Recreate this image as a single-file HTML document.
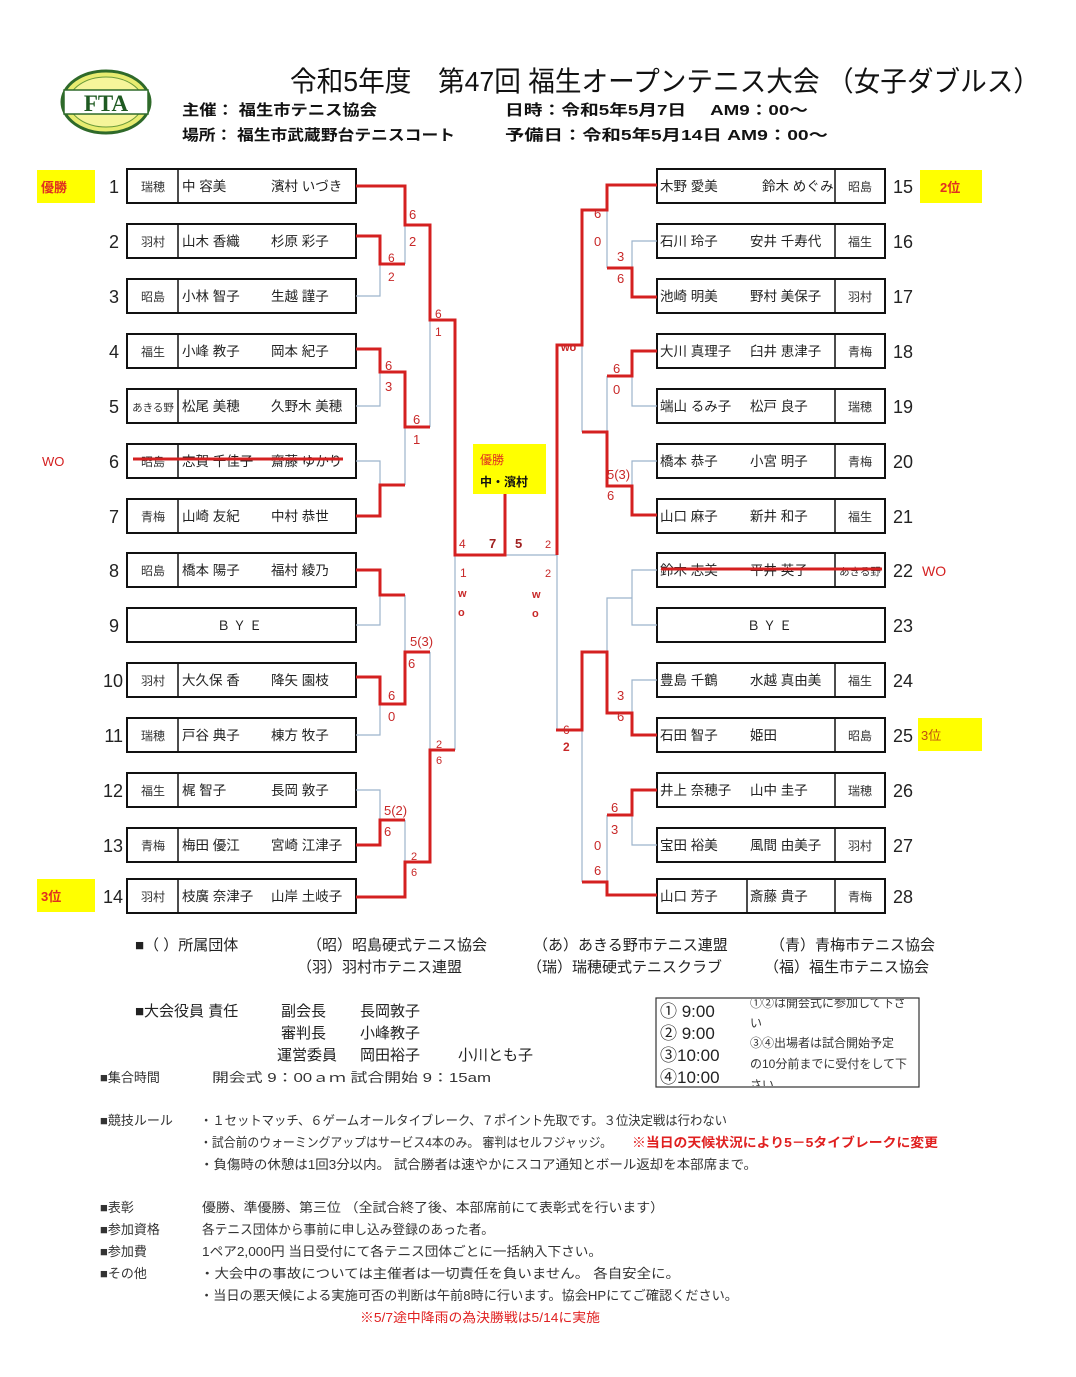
<!DOCTYPE html>
<html><head><meta charset="utf-8"><style>
html,body{margin:0;padding:0;background:#fff;width:1076px;height:1377px;overflow:hidden}
svg{display:block;font-family:"Liberation Sans","Noto Sans CJK JP",sans-serif}
</style></head><body>
<svg width="1076" height="1377" viewBox="0 0 1076 1377" xmlns="http://www.w3.org/2000/svg">
<rect width="1076" height="1377" fill="#fff"/>
<!-- logo -->
<ellipse cx="106" cy="102" rx="44" ry="31" fill="#e8ec70" stroke="#2f6a2a" stroke-width="3"/>
<ellipse cx="106" cy="102" rx="37" ry="25" fill="#f6f59a" stroke="#6a9a3a" stroke-width="1"/>
<rect x="64" y="90" width="84" height="24" fill="#fff" stroke="#2f6a2a" stroke-width="1.5"/>
<text x="106" y="111" font-family="Liberation Serif,serif" font-weight="bold" font-size="23" fill="#1f5a22" text-anchor="middle">FTA</text>
<!-- header -->
<text x="290" y="91" font-size="28" fill="#111" textLength="750" lengthAdjust="spacingAndGlyphs">令和5年度　第47回 福生オープンテニス大会 （女子ダブルス）</text>
<g font-size="15" font-weight="bold" fill="#111">
<text x="182" y="115" textLength="195" lengthAdjust="spacingAndGlyphs">主催：  福生市テニス協会</text>
<text x="182" y="140" textLength="273" lengthAdjust="spacingAndGlyphs">場所：  福生市武蔵野台テニスコート</text>
<text x="505" y="115" textLength="303" lengthAdjust="spacingAndGlyphs">日時：令和5年5月7日　 AM9：00～</text>
<text x="505" y="140" textLength="323" lengthAdjust="spacingAndGlyphs">予備日：令和5年5月14日  AM9：00～</text>
</g>
<!-- yellow labels -->
<rect x="37" y="170" width="58" height="33" fill="#ffff00"/><text x="41" y="192" font-size="13" font-weight="bold" fill="#e03020">優勝</text>
<rect x="37" y="879" width="58" height="33" fill="#ffff00"/><text x="41" y="901" font-size="13" font-weight="bold" fill="#e03020">3位</text>
<rect x="920" y="170" width="62" height="33" fill="#ffff00"/><text x="940" y="192" font-size="13" font-weight="bold" fill="#e03020">2位</text>
<rect x="918" y="718" width="64" height="33" fill="#ffff00"/><text x="921" y="740" font-size="13" fill="#c05010">3位</text>
<rect x="473" y="444" width="73" height="50" fill="#ffff00"/>
<text x="480" y="464" font-size="12" fill="#e03020">優勝</text>
<text x="480" y="486" font-size="12" font-weight="bold" fill="#111">中・濱村</text>
<text x="42" y="466" font-size="13" fill="#d42020">WO</text>
<text x="922" y="576" font-size="14" fill="#d42020">WO</text>

<!-- left boxes -->
<g fill="none" stroke="#111" stroke-width="2">
<rect x="127" y="169" width="229" height="34"/><rect x="127" y="224" width="229" height="34"/><rect x="127" y="279" width="229" height="34"/><rect x="127" y="334" width="229" height="34"/><rect x="127" y="389" width="229" height="34"/><rect x="127" y="444" width="229" height="34"/><rect x="127" y="499" width="229" height="34"/><rect x="127" y="553" width="229" height="34"/><rect x="127" y="608" width="229" height="34"/><rect x="127" y="663" width="229" height="34"/><rect x="127" y="718" width="229" height="34"/><rect x="127" y="773" width="229" height="34"/><rect x="127" y="828" width="229" height="34"/><rect x="127" y="879" width="229" height="34"/>
</g>
<g stroke="#111" stroke-width="1.5">
<line x1="178" y1="169" x2="178" y2="203"/><line x1="178" y1="224" x2="178" y2="258"/><line x1="178" y1="279" x2="178" y2="313"/><line x1="178" y1="334" x2="178" y2="368"/><line x1="178" y1="389" x2="178" y2="423"/><line x1="178" y1="444" x2="178" y2="478"/><line x1="178" y1="499" x2="178" y2="533"/><line x1="178" y1="553" x2="178" y2="587"/><line x1="178" y1="663" x2="178" y2="697"/><line x1="178" y1="718" x2="178" y2="752"/><line x1="178" y1="773" x2="178" y2="807"/><line x1="178" y1="828" x2="178" y2="862"/><line x1="178" y1="879" x2="178" y2="913"/>
</g>
<g font-size="18" fill="#222" text-anchor="end">
<text x="119" y="193">1</text><text x="119" y="248">2</text><text x="119" y="303">3</text><text x="119" y="358">4</text><text x="119" y="413">5</text><text x="119" y="468">6</text><text x="119" y="523">7</text><text x="119" y="577">8</text><text x="119" y="632">9</text><text x="123" y="687">10</text><text x="123" y="742">11</text><text x="123" y="797">12</text><text x="123" y="852">13</text><text x="123" y="903">14</text>
</g>
<g font-size="12" fill="#333" text-anchor="middle">
<text x="153" y="191">瑞穂</text><text x="153" y="246">羽村</text><text x="153" y="301">昭島</text><text x="153" y="356">福生</text><text x="153" y="411" font-size="10.5">あきる野</text><text x="153" y="466">昭島</text><text x="153" y="521">青梅</text><text x="153" y="575">昭島</text><text x="153" y="685">羽村</text><text x="153" y="740">瑞穂</text><text x="153" y="795">福生</text><text x="153" y="850">青梅</text><text x="153" y="901">羽村</text>
</g>
<g font-size="13.5" fill="#222">
<text x="182" y="191">中  容美</text><text x="271" y="191">濱村  いづき</text>
<text x="182" y="246">山木  香織</text><text x="271" y="246">杉原  彩子</text>
<text x="182" y="301">小林  智子</text><text x="271" y="301">生越  謹子</text>
<text x="182" y="356">小峰  教子</text><text x="271" y="356">岡本  紀子</text>
<text x="182" y="411">松尾 美穂</text><text x="271" y="411">久野木 美穂</text>
<text x="182" y="466">志賀 千佳子</text><text x="271" y="466">齋藤 ゆかり</text>
<text x="182" y="521">山崎  友紀</text><text x="271" y="521">中村  恭世</text>
<text x="182" y="575">橋本 陽子</text><text x="271" y="575">福村 綾乃</text>
<text x="241" y="630" text-anchor="middle" font-size="13" letter-spacing="3">ＢＹＥ</text>
<text x="182" y="685">大久保  香</text><text x="271" y="685">降矢  園枝</text>
<text x="182" y="740">戸谷 典子</text><text x="271" y="740">棟方 牧子</text>
<text x="182" y="795">梶  智子</text><text x="271" y="795">長岡  敦子</text>
<text x="182" y="850">梅田  優江</text><text x="271" y="850">宮崎  江津子</text>
<text x="182" y="901">枝廣  奈津子</text><text x="271" y="901">山岸  土岐子</text>
</g>
<line x1="133" y1="459" x2="343" y2="459" stroke="#d42020" stroke-width="3"/>

<!-- right boxes -->
<g fill="none" stroke="#111" stroke-width="2">
<rect x="657" y="169" width="228" height="34"/><rect x="657" y="224" width="228" height="34"/><rect x="657" y="279" width="228" height="34"/><rect x="657" y="334" width="228" height="34"/><rect x="657" y="389" width="228" height="34"/><rect x="657" y="444" width="228" height="34"/><rect x="657" y="499" width="228" height="34"/><rect x="657" y="553" width="228" height="34"/><rect x="657" y="608" width="228" height="34"/><rect x="657" y="663" width="228" height="34"/><rect x="657" y="718" width="228" height="34"/><rect x="657" y="773" width="228" height="34"/><rect x="657" y="828" width="228" height="34"/><rect x="657" y="879" width="228" height="34"/>
</g>
<g stroke="#111" stroke-width="1.5">
<line x1="835" y1="169" x2="835" y2="203"/><line x1="835" y1="224" x2="835" y2="258"/><line x1="835" y1="279" x2="835" y2="313"/><line x1="835" y1="334" x2="835" y2="368"/><line x1="835" y1="389" x2="835" y2="423"/><line x1="835" y1="444" x2="835" y2="478"/><line x1="835" y1="499" x2="835" y2="533"/><line x1="835" y1="553" x2="835" y2="587"/><line x1="835" y1="663" x2="835" y2="697"/><line x1="835" y1="718" x2="835" y2="752"/><line x1="835" y1="773" x2="835" y2="807"/><line x1="835" y1="828" x2="835" y2="862"/><line x1="835" y1="879" x2="835" y2="913"/><line x1="747" y1="879" x2="747" y2="913"/>
</g>
<g font-size="18" fill="#222">
<text x="893" y="193">15</text><text x="893" y="248">16</text><text x="893" y="303">17</text><text x="893" y="358">18</text><text x="893" y="413">19</text><text x="893" y="468">20</text><text x="893" y="523">21</text><text x="893" y="577">22</text><text x="893" y="632">23</text><text x="893" y="687">24</text><text x="893" y="742">25</text><text x="893" y="797">26</text><text x="893" y="852">27</text><text x="893" y="903">28</text>
</g>
<g font-size="12" fill="#333" text-anchor="middle">
<text x="860" y="191">昭島</text><text x="860" y="246">福生</text><text x="860" y="301">羽村</text><text x="860" y="356">青梅</text><text x="860" y="411">瑞穂</text><text x="860" y="466">青梅</text><text x="860" y="521">福生</text><text x="860" y="575" font-size="10.5">あきる野</text><text x="860" y="685">福生</text><text x="860" y="740">昭島</text><text x="860" y="795">瑞穂</text><text x="860" y="850">羽村</text><text x="860" y="901">青梅</text>
</g>
<g font-size="13.5" fill="#222">
<text x="660" y="191">木野 愛美</text><text x="762" y="191">鈴木 めぐみ</text>
<text x="660" y="246">石川  玲子</text><text x="750" y="246">安井  千寿代</text>
<text x="660" y="301">池崎  明美</text><text x="750" y="301">野村  美保子</text>
<text x="660" y="356">大川  真理子</text><text x="750" y="356">臼井  恵津子</text>
<text x="660" y="411">端山 るみ子</text><text x="750" y="411">松戸  良子</text>
<text x="660" y="466">橋本  恭子</text><text x="750" y="466">小宮  明子</text>
<text x="660" y="521">山口  麻子</text><text x="750" y="521">新井  和子</text>
<text x="660" y="575">鈴木 志美</text><text x="750" y="575">平井 英子</text>
<text x="771" y="630" text-anchor="middle" font-size="13" letter-spacing="3">ＢＹＥ</text>
<text x="660" y="685">豊島  千鶴</text><text x="750" y="685">水越  真由美</text>
<text x="660" y="740">石田 智子</text><text x="750" y="740">姫田</text>
<text x="660" y="795">井上 奈穂子</text><text x="750" y="795">山中  圭子</text>
<text x="660" y="850">宝田  裕美</text><text x="750" y="850">風間  由美子</text>
<text x="660" y="901">山口  芳子</text><text x="750" y="901">斎藤  貴子</text>
</g>
<line x1="661" y1="569" x2="882" y2="569" stroke="#d42020" stroke-width="3"/>

<!-- grey bracket lines -->
<g fill="none" stroke="#9cb4cc" stroke-width="1.2">
<polyline points="356,296 380,296 380,264"/><line x1="405" y1="225" x2="405" y2="264"/>
<polyline points="356,406 380,406 380,372"/>
<polyline points="356,461 380,461 380,485"/><line x1="405" y1="427" x2="405" y2="485"/>
<line x1="430" y1="225" x2="430" y2="427"/>
<polyline points="356,625 380,625 380,595"/><line x1="405" y1="595" x2="405" y2="652"/>
<polyline points="356,735 380,735 380,704"/><line x1="430" y1="652" x2="430" y2="750"/>
<polyline points="356,790 380,790 380,820"/><line x1="405" y1="820" x2="405" y2="862"/>
<line x1="455" y1="555" x2="455" y2="750"/>
<line x1="505" y1="555" x2="557" y2="555"/>
<polyline points="657,241 632,241 632,268"/><line x1="607" y1="210" x2="607" y2="268"/>
<polyline points="657,406 632,406 632,376"/><line x1="607" y1="376" x2="607" y2="432"/>
<polyline points="657,461 632,461 632,486"/><line x1="582" y1="345" x2="582" y2="432"/>
<polyline points="657,570 632,570 632,625 657,625"/><polyline points="632,598 607,598 607,652"/>
<polyline points="657,680 632,680 632,713"/>
<polyline points="657,845 632,845 632,815"/><line x1="607" y1="815" x2="607" y2="882"/>
<line x1="582" y1="730" x2="582" y2="882"/>
<line x1="557" y1="555" x2="557" y2="730"/>
</g>
<!-- red winner lines -->
<g fill="none" stroke="#d42020" stroke-width="3" stroke-linejoin="miter">
<polyline points="356,186 405,186 405,225 430,225 430,320 455,320 455,555 505,555 505,494"/>
<polyline points="356,236 380,236 380,264 405,264"/>
<polyline points="356,349 380,349 380,372 405,372 405,427 430,427"/>
<polyline points="356,516 380,516 380,485 405,485"/>
<polyline points="356,570 380,570 380,595 405,595"/>
<polyline points="356,677 380,677 380,704 405,704 405,652 430,652"/>
<polyline points="356,845 380,845 380,820 405,820"/>
<polyline points="356,897 405,897 405,862 430,862 430,750 455,750"/>
<polyline points="657,185 607,185 607,210 582,210 582,345 557,345 557,555"/>
<polyline points="657,297 632,297 632,268 607,268"/>
<polyline points="657,351 632,351 632,376 607,376"/>
<polyline points="657,515 632,515 632,486 607,486 607,432 582,432"/>
<polyline points="657,735 632,735 632,713 607,713 607,652 582,652 582,730 556,730"/>
<polyline points="657,790 632,790 632,815 607,815"/>
<polyline points="657,895 607,895 607,882 582,882"/>
</g>
<!-- scores -->
<g font-size="13" fill="#c82828">
<text x="409" y="219">6</text><text x="409" y="246">2</text>
<text x="388" y="262" font-size="12">6</text><text x="388" y="281" font-size="12">2</text>
<text x="435" y="318" font-size="12">6</text><text x="435" y="336" font-size="12">1</text>
<text x="385" y="370">6</text><text x="385" y="391">3</text>
<text x="413" y="424">6</text><text x="413" y="444">1</text>
<text x="410" y="646">5(3)</text><text x="408" y="668">6</text>
<text x="388" y="700">6</text><text x="388" y="721">0</text>
<text x="436" y="748" font-size="11">2</text><text x="436" y="764" font-size="11">6</text>
<text x="384" y="815">5(2)</text><text x="384" y="836">6</text>
<text x="411" y="860" font-size="11">2</text><text x="411" y="876" font-size="11">6</text>
<text x="459" y="548" font-size="12">4</text><text x="489" y="548" font-weight="bold" fill="#a02020">7</text><text x="515" y="548" font-weight="bold" fill="#a02020">5</text><text x="545" y="548" font-size="11">2</text>
<text x="460" y="577" font-size="12">1</text><text x="545" y="577" font-size="11">2</text>
<text x="458" y="597" font-size="11" font-weight="bold">w</text><text x="458" y="616" font-size="11" font-weight="bold">o</text>
<text x="532" y="598" font-size="11" font-weight="bold">w</text><text x="532" y="617" font-size="11" font-weight="bold">o</text>
<text x="594" y="218">6</text><text x="594" y="246">0</text>
<text x="617" y="261">3</text><text x="617" y="283">6</text>
<text x="561" y="351" font-size="11" font-weight="bold">wo</text>
<text x="613" y="373">6</text><text x="613" y="394">0</text>
<text x="607" y="479">5(3)</text><text x="607" y="500">6</text>
<text x="563" y="734" font-size="12">6</text><text x="563" y="751" font-size="12" font-weight="bold">2</text>
<text x="617" y="700">3</text><text x="617" y="721">6</text>
<text x="611" y="812">6</text><text x="611" y="834">3</text>
<text x="594" y="850">0</text><text x="594" y="875">6</text>
</g>

<!-- lower info -->
<g font-size="15" fill="#222">
<text x="135" y="950">■（ ）所属団体</text>
<text x="307" y="950">（昭）昭島硬式テニス協会</text>
<text x="297" y="972">（羽）羽村市テニス連盟</text>
<text x="533" y="950">（あ）あきる野市テニス連盟</text>
<text x="527" y="972">（瑞）瑞穂硬式テニスクラブ</text>
<text x="770" y="950">（青）青梅市テニス協会</text>
<text x="764" y="972">（福）福生市テニス協会</text>
<text x="135" y="1016">■大会役員 責任</text>
<text x="281" y="1016">副会長</text><text x="360" y="1016">長岡敦子</text>
<text x="281" y="1038">審判長</text><text x="360" y="1038">小峰教子</text>
<text x="277" y="1060">運営委員</text><text x="360" y="1060">岡田裕子</text><text x="458" y="1060">小川とも子</text>
</g>
<g font-size="13" fill="#333">
<text x="100" y="1082">■集合時間</text>
<text x="212" y="1082" textLength="279" lengthAdjust="spacingAndGlyphs">開会式  9：00ａｍ   試合開始 9：15am</text>
</g>
<rect x="656" y="998" width="263" height="89" fill="none" stroke="#333" stroke-width="1.2"/>
<g font-size="17" fill="#222">
<text x="660" y="1017">① 9:00</text><text x="660" y="1039">② 9:00</text><text x="660" y="1061">③10:00</text><text x="660" y="1083">④10:00</text>
</g>
<svg x="748" y="999" width="170" height="87"><g font-size="12" fill="#333">
<text x="2" y="8">①②は開会式に参加して下さ</text><text x="2" y="28">い</text><text x="2" y="48">③④出場者は試合開始予定</text><text x="2" y="69">の10分前までに受付をして下</text><text x="2" y="90">さい</text></g></svg>

<g font-size="13" fill="#333">
<text x="100" y="1125">■競技ルール</text>
<text x="200" y="1125" textLength="527" lengthAdjust="spacingAndGlyphs">・１セットマッチ、６ゲームオールタイブレーク、７ポイント先取です。３位決定戦は行わない</text>
<text x="200" y="1147" textLength="412" lengthAdjust="spacingAndGlyphs">・試合前のウォーミングアップはサービス4本のみ。 審判はセルフジャッジ。</text>
<text x="632" y="1147" font-weight="bold" fill="#e02020" textLength="306" lengthAdjust="spacingAndGlyphs">※当日の天候状況により5－5タイブレークに変更</text>
<text x="200" y="1169" textLength="557" lengthAdjust="spacingAndGlyphs">・負傷時の休憩は1回3分以内。 試合勝者は速やかにスコア通知とボール返却を本部席まで。</text>
<text x="100" y="1212">■表彰</text>
<text x="202" y="1212" textLength="462" lengthAdjust="spacingAndGlyphs">優勝、準優勝、第三位   （全試合終了後、本部席前にて表彰式を行います）</text>
<text x="100" y="1234">■参加資格</text>
<text x="202" y="1234" textLength="292" lengthAdjust="spacingAndGlyphs">各テニス団体から事前に申し込み登録のあった者。</text>
<text x="100" y="1256">■参加費</text>
<text x="202" y="1256" textLength="400" lengthAdjust="spacingAndGlyphs">1ペア2,000円  当日受付にて各テニス団体ごとに一括納入下さい。</text>
<text x="100" y="1278">■その他</text>
<text x="200" y="1278" textLength="480" lengthAdjust="spacingAndGlyphs">・大会中の事故については主催者は一切責任を負いません。       各自安全に。</text>
<text x="200" y="1300" textLength="538" lengthAdjust="spacingAndGlyphs">・当日の悪天候による実施可否の判断は午前8時に行います。協会HPにてご確認ください。</text>
<text x="360" y="1322" fill="#e02020" textLength="240" lengthAdjust="spacingAndGlyphs">※5/7途中降雨の為決勝戦は5/14に実施</text>
</g>
</svg>
</body></html>
